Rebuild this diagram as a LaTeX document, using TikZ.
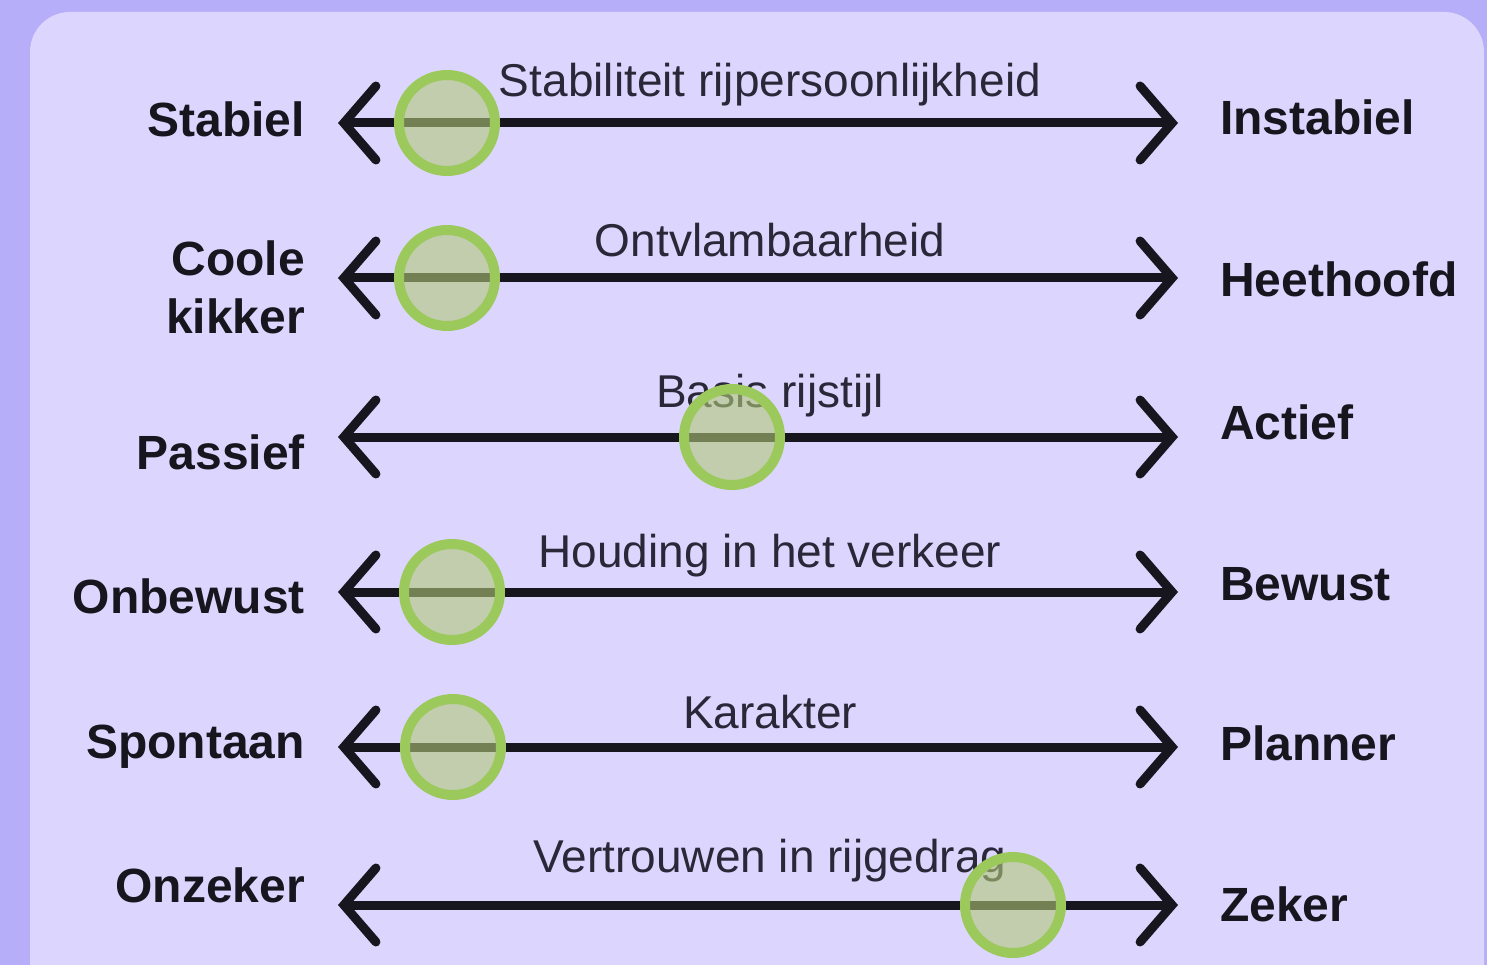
\documentclass[tikz,border=0pt]{standalone}
\usepackage{fontspec}
\setmainfont{Liberation Sans}
\usetikzlibrary{arrows.meta}
\definecolor{outerbg}{HTML}{B7AEF9}
\definecolor{panelbg}{HTML}{DCD6FE}
\definecolor{ringgreen}{HTML}{9CC95C}
\definecolor{knobfill}{HTML}{AFC876}
\definecolor{labelink}{HTML}{17161F}
\definecolor{titleink}{HTML}{2A2838}
\tikzset{
  axis/.style={line width=9pt, draw=labelink, line cap=round,
    {Straight Barb[length=32pt, width=74pt, line cap=round]}-{Straight Barb[length=32pt, width=74pt, line cap=round]}},
  knob/.style={circle, minimum size=96pt, inner sep=0pt, draw=ringgreen, line width=10pt,
    fill=knobfill, fill opacity=0.6, draw opacity=1},
  pole/.style={font=\fontsize{48}{58}\selectfont\bfseries, text=labelink, inner sep=0pt},
  leftpole/.style={pole, anchor=base east, align=right},
  rightpole/.style={pole, anchor=base west},
  scaletitle/.style={font=\fontsize{46}{50}\selectfont, text=titleink, inner sep=0pt, anchor=base},
}
\begin{document}
\begin{tikzpicture}[x=1pt, y=-1pt]
  \useasboundingbox (0,0) rectangle (1487,965);
  \fill[outerbg] (0,0) rectangle (1487,965);
  \fill[panelbg, rounded corners=40pt] (30,12) rectangle (1484,1010);

  % six rating scales: both ends of each axis
  \foreach \i/\y in {1/123, 2/278, 3/437, 4/592, 5/747, 6/905} {
    \coordinate (a\i) at (338,\y);
    \coordinate (b\i) at (1178,\y);
    \draw[axis] (a\i) -- (b\i);
  }

  \node[scaletitle] (t1) at (770,97)  {Stabiliteit rijpersoonlijkheid};
  \node[scaletitle] (t2) at (770,257) {Ontvlambaarheid};
  \node[scaletitle] (t3) at (770,407) {Basis rijstijl};
  \node[scaletitle] (t4) at (770,567) {Houding in het verkeer};
  \node[scaletitle] (t5) at (770,728) {Karakter};
  \node[scaletitle] (t6) at (770,872) {Vertrouwen in rijgedrag};

  % slider knobs
  \node[knob] (k1) at (447,123) {};
  \node[knob] (k2) at (447,278) {};
  \node[knob] (k3) at (732,437) {};
  \node[knob] (k4) at (452,592) {};
  \node[knob] (k5) at (453,747) {};
  \node[knob] (k6) at (1013,905) {};

  \node[leftpole] (l1) at (305,137) {Stabiel};
  \node[leftpole] (l2) at (305,333) {Coole\\kikker};
  \node[leftpole] (l3) at (305,469) {Passief};
  \node[leftpole] (l4) at (305,613) {Onbewust};
  \node[leftpole] (l5) at (305,758) {Spontaan};
  \node[leftpole] (l6) at (305,902) {Onzeker};

  \node[rightpole] (r1) at (1220,135) {Instabiel};
  \node[rightpole] (r2) at (1220,297) {Heethoofd};
  \node[rightpole] (r3) at (1220,439) {Actief};
  \node[rightpole] (r4) at (1220,600) {Bewust};
  \node[rightpole] (r5) at (1220,760) {Planner};
  \node[rightpole] (r6) at (1220,921) {Zeker};
\end{tikzpicture}
\end{document}
